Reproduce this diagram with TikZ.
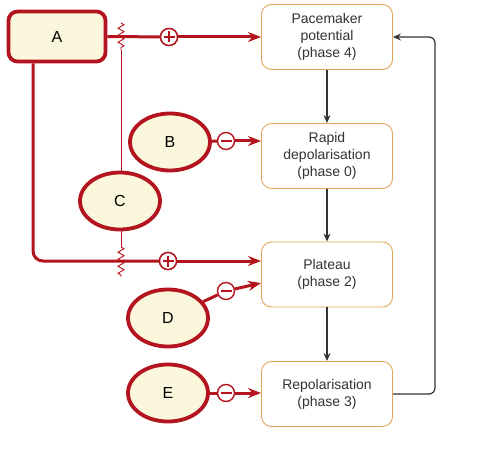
\documentclass[tikz,border=0pt]{standalone}
\usepackage{fontspec}
\setmainfont{Liberation Sans}
\usetikzlibrary{arrows.meta,shapes.geometric,decorations.pathmorphing}
\definecolor{dred}{HTML}{B3141E}
\definecolor{cream}{HTML}{FAF7DC}
\definecolor{orng}{HTML}{E3A558}
\begin{document}
\begin{tikzpicture}[x=1pt,y=-1pt,
phase/.style={draw=orng, line width=0.9pt, rounded corners=10pt, minimum width=131pt, minimum height=65pt, align=center, font=\fontsize{14}{17}\selectfont, text=black!80, fill=white},
agent/.style={ellipse, draw=dred, line width=3.8pt, fill=cream, minimum width=80pt, minimum height=57pt, inner sep=0pt, font=\fontsize{16}{18}\selectfont},
sign/.style={circle, draw=dred, line width=1.4pt, fill=white, minimum size=17pt, inner sep=0pt},
plus/.style={sign, path picture={\draw[dred,line width=1.5pt] ([xshift=-5.5pt]path picture bounding box.center) -- ([xshift=5.5pt]path picture bounding box.center); \draw[dred,line width=1.5pt] ([yshift=-5.5pt]path picture bounding box.center) -- ([yshift=5.5pt]path picture bounding box.center);}},
minus/.style={sign, path picture={\draw[dred,line width=2pt] ([xshift=-5.5pt]path picture bounding box.center) -- ([xshift=5.5pt]path picture bounding box.center);}},
redline/.style={draw=dred, line width=3pt},
redarrow/.style={redline, -{Stealth[length=13pt,width=10pt]}},
blk/.style={draw=black!80, line width=1.2pt, -{Stealth[length=8pt,width=7pt]}},
thinred/.style={draw=dred, line width=0.9pt},
zz/.style={thinred, decorate, decoration={zigzag, segment length=7pt, amplitude=3pt}},
]
\useasboundingbox (0,0) rectangle (490,476);
% phase boxes
\node[phase] (p4) at (327,37) {Pacemaker\\potential\\(phase 4)};
\node[phase] (p0) at (327,156) {Rapid\\depolarisation\\(phase 0)};
\node[phase] (p2) at (327,274.5) {Plateau\\(phase 2)};
\node[phase] (p3) at (327,394) {Repolarisation\\(phase 3)};
% agents
\node[draw=dred, line width=3.8pt, fill=cream, rounded corners=9pt, minimum width=97pt, minimum height=50pt, font=\fontsize{16}{18}\selectfont] (A) at (57,36.5) {A};
\node[agent] (B) at (170,142) {B};
\node[agent] (C) at (120,201) {C};
\node[agent] (D) at (168,318) {D};
\node[agent] (E) at (168,393) {E};
% signs
\node[plus] (s1) at (169,37) {};
\node[plus] (s2) at (168,261) {};
\node[minus] (m1) at (226,141) {};
\node[minus] (m2) at (226,291) {};
\node[minus] (m3) at (226,393) {};
% zigzag coordinates
\coordinate (zt1) at (121,23);
\coordinate (zt2) at (121,50);
\coordinate (zb1) at (121,247);
\coordinate (zb2) at (121,277);
\coordinate (d2in) at (261,283);
\coordinate (ret) at (435,394);
% red connectors
\draw[redline] (A.east) -- (s1);
\draw[redarrow] (s1) -- (p4.west);
\draw[redline, rounded corners=10pt] ([xshift=-24pt]A.south) -- ([xshift=-24pt]A.south |- s2) -- (s2);
\draw[redarrow] (s2) -- (s2 -| p2.west);
\draw[redline] (B) -- (m1);
\draw[redarrow] (m1) -- (m1 -| p0.west);
\draw[redline] (D) -- (m2);
\draw[redarrow] (m2) -- (d2in);
\draw[redline] (E) -- (m3);
\draw[redarrow] (m3) -- (m3 -| p3.west);
% C links with zigzags
\draw[zz] (zt1) -- (zt2);
\draw[thinred] (zt2) -- (zt2 |- C.north);
\draw[thinred] (zb1 |- C.south) -- (zb1);
\draw[zz] (zb1) -- (zb2);
% redraw signs on top
\node[plus] at (s1) {};
\node[plus] at (s2) {};
% black arrows
\draw[blk] (p4) -- (p0);
\draw[blk] (p0) -- (p2);
\draw[blk] (p2) -- (p3);
\draw[blk, rounded corners=6pt] (p3.east) -- (ret) -- (ret |- p4.east) -- (p4.east);
\end{tikzpicture}
\end{document}
